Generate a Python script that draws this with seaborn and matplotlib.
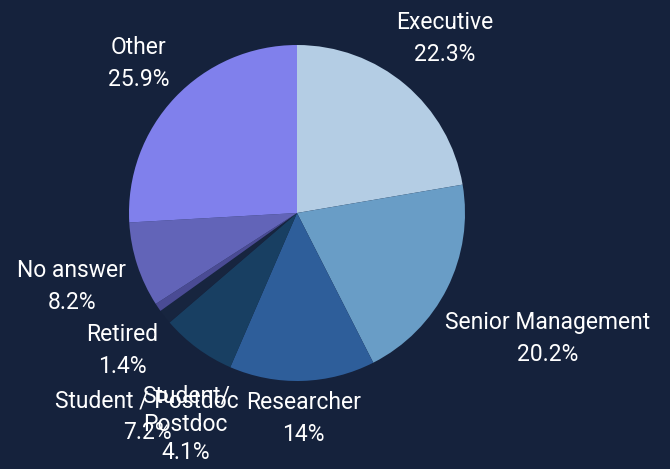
import numpy as np
import matplotlib
matplotlib.use("Agg")
import matplotlib.pyplot as plt
import seaborn as sns

sns.set_theme(style="dark")
plt.rcParams['font.family'] = ['Roboto', 'DejaVu Sans']

# data (clockwise from the top)
categories = ["Executive", "Senior Management", "Researcher", "Student / Postdoc",
              "Retired", "Student/\nPostdoc", "No answer", "Other"]
values = [22.3, 20.2, 14.0, 7.2, 1.4, 0.8, 8.2, 25.9]
pct_labels = ["22.3%", "20.2%", "14%", "7.2%", "1.4%", "4.1%", "8.2%", "25.9%"]
colors = ["#b4cde4", "#699dc6", "#2e5e9a", "#183f62",
          "#17253f", "#4a4b94", "#6264b8", "#8080ec"]

bg = "#15223c"
fig = plt.figure(figsize=(6.7, 4.69), dpi=100, facecolor=bg)
R = 168  # pie radius in px
cx, cy = 297, 469 - 213
ax = fig.add_axes([(cx - R) / 670, (cy - R) / 469, 2 * R / 670, 2 * R / 469])
ax.set_facecolor(bg)

wedges, _ = ax.pie(values, colors=colors, startangle=90, counterclock=False,
                   wedgeprops=dict(linewidth=0), radius=1)
ax.set_xlim(-1, 1)
ax.set_ylim(-1, 1)
ax.set_aspect("auto")
ax.axis("off")

# labels outside, box pushed just past the rim along the mid angle
fig.canvas.draw()
renderer = fig.canvas.get_renderer()
r0 = 1.05
for i, w in enumerate(wedges):
    ang = np.deg2rad((w.theta1 + w.theta2) / 2)
    txt = ax.text(0, 0, categories[i] + "\n" + pct_labels[i], color="white",
                  fontsize=16.5, ha="center", va="center", multialignment="center",
                  linespacing=1.3 if i == 5 else 1.5, clip_on=False)
    bb = txt.get_window_extent(renderer)
    hw, hh = bb.width / 2 / R, bb.height / 2 / R
    c, s = np.cos(ang), np.sin(ang)
    if i == 5:
        # this one got pushed down under its neighbour
        ang = np.deg2rad(-117.8)
        c, s = np.cos(ang), np.sin(ang)
        d = 1.42
    else:
        d = r0 + abs(c) * hw + abs(s) * hh
    txt.set_position((d * c, d * s))

fig.savefig("out.png", dpi=100, facecolor=bg)
